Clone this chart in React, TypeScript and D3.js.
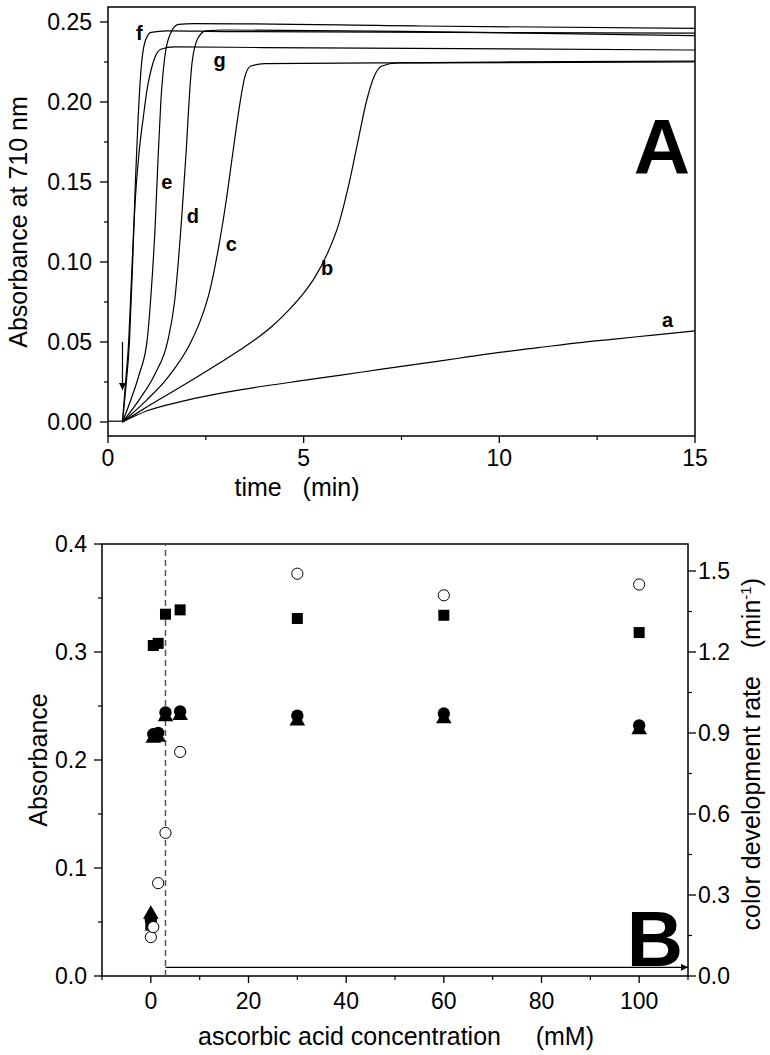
import React from "react";
import * as d3 from "d3";

// ---------- Panel A data (time in min, absorbance at 710 nm) ----------
const baseline: [number, number][] = [[0, 0.0005], [0.37, 0.0005]];
const curveA: [number, number][] = [[0.37,0],[1,0.007],[2,0.0135],[3,0.0185],[4,0.0225],[5,0.026],[6,0.0295],[7,0.033],[8,0.0365],[9,0.04],[10,0.0435],[11,0.0465],[12,0.0495],[13,0.052],[14,0.0545],[15,0.057]];
const curveB: [number, number][] = [[0.37,0],[1,0.0095],[2,0.024],[2.86,0.037],[3.37,0.045],[3.76,0.0515],[4.2,0.06],[4.6,0.0695],[5.0,0.0805],[5.3,0.091],[5.6,0.105],[5.9,0.124],[6.15,0.148],[6.4,0.177],[6.6,0.2],[6.8,0.216],[7.0,0.2225],[7.4,0.2245],[10,0.225],[15,0.2255]];
const curveC: [number, number][] = [[0.37,0],[1,0.014],[1.5,0.027],[2.1,0.049],[2.4,0.066],[2.6,0.082],[2.81,0.107],[3.0,0.135],[3.2,0.17],[3.37,0.199],[3.5,0.216],[3.65,0.2225],[4,0.224],[8,0.2245],[15,0.225]];
const curveD: [number, number][] = [[0.37,0],[0.8,0.014],[1.2,0.03],[1.53,0.051],[1.7,0.075],[1.89,0.13],[2.0,0.17],[2.07,0.2],[2.15,0.225],[2.3,0.24],[2.5,0.2445],[3,0.245],[8,0.244],[15,0.2415]];
const curveE: [number, number][] = [[0.37,0],[0.6,0.015],[0.8,0.03],[1.0,0.051],[1.1,0.08],[1.2,0.12],[1.28,0.165],[1.35,0.2],[1.45,0.228],[1.6,0.243],[1.8,0.2485],[2.2,0.249],[8,0.2475],[15,0.246]];
const curveF: [number, number][] = [[0.37,0],[0.45,0.02],[0.55,0.051],[0.63,0.1],[0.7,0.15],[0.77,0.19],[0.85,0.222],[0.95,0.238],[1.1,0.2435],[1.5,0.2445],[3,0.244],[15,0.243]];
const curveG: [number, number][] = [[0.37,0],[0.45,0.025],[0.53,0.051],[0.6,0.09],[0.7,0.14],[0.8,0.17],[0.9,0.19],[1.0,0.208],[1.1,0.22],[1.2,0.228],[1.35,0.233],[1.7,0.2345],[4,0.234],[15,0.2325]];
const curves = [curveA, curveB, curveC, curveD, curveE, curveF, curveG];

const curveLabels = ["a", "b", "c", "d", "e", "f", "g"];
const labelT = [14.3, 5.6, 3.15, 2.17, 1.5, 0.8, 2.85];
const labelV = [0.064, 0.096, 0.111, 0.129, 0.15, 0.243, 0.226];

const xTicksA = [0, 5, 10, 15];
const yTicksA = [0, 0.05, 0.1, 0.15, 0.2, 0.25];

// ---------- Panel B data ----------
const conc = [0, 0.5, 1.5, 3, 6, 30, 60, 100];
const squares = [0.047, 0.306, 0.308, 0.335, 0.339, 0.331, 0.334, 0.318];
const filledCircles = [0.052, 0.224, 0.225, 0.244, 0.245, 0.241, 0.243, 0.232];
const triangles = [0.058, 0.221, 0.222, 0.241, 0.242, 0.237, 0.239, 0.229];
const openCirclesRate = [0.144, 0.181, 0.344, 0.53, 0.83, 1.49, 1.41, 1.45];

const xTicksB = [0, 20, 40, 60, 80, 100];
const yTicksB = [0, 0.1, 0.2, 0.3, 0.4];
const yTicksR = [0, 0.3, 0.6, 0.9, 1.2, 1.5];
const dashedX = 3;

const FONT = "'Liberation Sans', Arial, Helvetica, sans-serif";

export default function App() {
  // Panel A scales
  const xA = d3.scaleLinear().domain([0, 15]).range([108, 695]);
  const yA = d3.scaleLinear().domain([0, 0.25]).range([422, 22]);
  const topA = 7;
  const botA = 436;
  // Panel B scales
  const xB = d3.scaleLinear().domain([-10, 110]).range([102, 688]);
  const yB = d3.scaleLinear().domain([0, 0.4]).range([976, 544]);
  const yR = d3.scaleLinear().domain([0, 1.6]).range([976, 544]);

  const line = d3
    .line<[number, number]>()
    .x((d) => xA(d[0]))
    .y((d) => yA(d[1]))
    .curve(d3.curveMonotoneX);

  const minorXA = d3.range(0, 15.01, 2.5).filter((v) => !xTicksA.includes(v));
  const minorYA = d3.range(0, 0.2501, 0.025).filter((v) => !yTicksA.some((t) => Math.abs(t - v) < 1e-6));
  const minorXB = d3.range(-10, 110.01, 10).filter((v) => !xTicksB.includes(v));
  const minorYB = [0.05, 0.15, 0.25, 0.35];
  const minorYR = [0.15, 0.45, 0.75, 1.05, 1.35];

  const fsTick = 23;
  const fsTitle = 25;
  const tri = (cx: number, cy: number, s: number) =>
    `M${cx},${cy - s * 0.62} L${cx + s * 0.6},${cy + s * 0.42} L${cx - s * 0.6},${cy + s * 0.42} Z`;

  return (
    <svg
      width={770}
      height={1055}
      style={{ position: "absolute", left: 0, top: 0, background: "#fff" }}
      fontFamily={FONT}
    >
      <rect x={0} y={0} width={770} height={1055} fill="#fff" />
      <defs>
        <marker id="ah" viewBox="0 0 10 10" refX="10" refY="5" markerWidth="11" markerHeight="7" orient="auto" markerUnits="userSpaceOnUse">
          <path d="M0,0 L10,5 L0,10 Z" fill="#000" />
        </marker>
      </defs>

      {/* ================= Panel A ================= */}
      <rect x={xA(0)} y={topA} width={xA(15) - xA(0)} height={botA - topA} fill="none" stroke="#000" strokeWidth={1.5} />
      {xTicksA.map((t) => (
        <g key={"xa" + t}>
          <line x1={xA(t)} x2={xA(t)} y1={botA} y2={botA + 7} stroke="#000" strokeWidth={1.3} />
          <text x={xA(t)} y={botA + 30} fontSize={fsTick} textAnchor="middle">{t}</text>
        </g>
      ))}
      {minorXA.map((t) => (
        <line key={"mxa" + t} x1={xA(t)} x2={xA(t)} y1={botA} y2={botA + 4} stroke="#000" strokeWidth={1.2} />
      ))}
      {yTicksA.map((v) => (
        <g key={"ya" + v}>
          <line x1={xA(0) - 8} x2={xA(0)} y1={yA(v)} y2={yA(v)} stroke="#000" strokeWidth={1.3} />
          <text x={xA(0) - 16} y={yA(v)} dy="0.36em" fontSize={fsTick} textAnchor="end">{v.toFixed(2)}</text>
        </g>
      ))}
      {minorYA.map((v) => (
        <line key={"mya" + v} x1={xA(0) - 4} x2={xA(0)} y1={yA(v)} y2={yA(v)} stroke="#000" strokeWidth={1.2} />
      ))}
      <path d={d3.line<[number, number]>().x((d) => xA(d[0])).y((d) => yA(d[1]))(baseline) || ""} fill="none" stroke="#000" strokeWidth={1.2} />
      {curves.map((c, i) => (
        <path key={"c" + i} d={line(c) || ""} fill="none" stroke="#000" strokeWidth={1.2} />
      ))}
      {curveLabels.map((l, i) => (
        <text key={"l" + l} x={xA(labelT[i])} y={yA(labelV[i])} dy="0.35em" fontSize={20} fontWeight="bold" textAnchor="middle">{l}</text>
      ))}
      {/* injection arrow */}
      <line x1={xA(0.37)} x2={xA(0.37)} y1={yA(0.05)} y2={yA(0.02)} stroke="#000" strokeWidth={1.2} markerEnd="url(#ah)" />
      <text x={662} y={174} fontSize={78} fontWeight="bold" textAnchor="middle">A</text>
      <text x={297} y={botA + 60} fontSize={fsTitle} textAnchor="middle" style={{ whiteSpace: "pre" }}>{"time   (min)"}</text>
      <text transform={`translate(27,${222}) rotate(-90)`} fontSize={fsTitle} textAnchor="middle">Absorbance at 710 nm</text>

      {/* ================= Panel B ================= */}
      <rect x={102} y={544} width={688 - 102} height={976 - 544} fill="none" stroke="#000" strokeWidth={1.5} />
      {xTicksB.map((t) => (
        <g key={"xb" + t}>
          <line x1={xB(t)} x2={xB(t)} y1={976} y2={983} stroke="#000" strokeWidth={1.3} />
          <text x={xB(t)} y={1009} fontSize={fsTick} textAnchor="middle">{t}</text>
        </g>
      ))}
      {minorXB.map((t) => (
        <line key={"mxb" + t} x1={xB(t)} x2={xB(t)} y1={976} y2={980} stroke="#000" strokeWidth={1.2} />
      ))}
      {yTicksB.map((v) => (
        <g key={"yb" + v}>
          <line x1={94} x2={102} y1={yB(v)} y2={yB(v)} stroke="#000" strokeWidth={1.3} />
          <text x={87} y={yB(v)} dy="0.36em" fontSize={fsTick} textAnchor="end">{v.toFixed(1)}</text>
        </g>
      ))}
      {minorYB.map((v) => (
        <line key={"myb" + v} x1={98} x2={102} y1={yB(v)} y2={yB(v)} stroke="#000" strokeWidth={1.2} />
      ))}
      {yTicksR.map((v) => (
        <g key={"yr" + v}>
          <line x1={688} x2={696} y1={yR(v)} y2={yR(v)} stroke="#000" strokeWidth={1.3} />
          <text x={698} y={yR(v)} dy="0.36em" fontSize={fsTick} textAnchor="start">{v.toFixed(1)}</text>
        </g>
      ))}
      {minorYR.map((v) => (
        <line key={"myr" + v} x1={688} x2={692} y1={yR(v)} y2={yR(v)} stroke="#000" strokeWidth={1.2} />
      ))}
      {/* dashed threshold line */}
      <line x1={xB(dashedX)} x2={xB(dashedX)} y1={976} y2={544} stroke="#555" strokeWidth={1.5} strokeDasharray="6,4" />
      {/* arrow */}
      <line x1={xB(dashedX)} x2={xB(110)} y1={yB(0.008)} y2={yB(0.008)} stroke="#000" strokeWidth={1.2} markerEnd="url(#ah)" />

      {conc.map((c, i) => (
        <rect key={"sq" + i} x={xB(c) - 5.5} y={yB(squares[i]) - 5.5} width={11} height={11} fill="#000" />
      ))}
      {conc.map((c, i) => (
        <circle key={"fc" + i} cx={xB(c)} cy={yB(filledCircles[i])} r={6.2} fill="#000" />
      ))}
      {conc.map((c, i) => (
        <path key={"tr" + i} d={tri(xB(c), yB(triangles[i]), 13)} fill="#000" />
      ))}
      {conc.map((c, i) => (
        <circle key={"oc" + i} cx={xB(c)} cy={yR(openCirclesRate[i])} r={5.6} fill="#fff" stroke="#000" strokeWidth={1} />
      ))}

      <text x={655} y={966} fontSize={78} fontWeight="bold" textAnchor="middle">B</text>
      <text x={396} y={1045} fontSize={fsTitle} textAnchor="middle" style={{ whiteSpace: "pre" }}>{"ascorbic acid concentration     (mM)"}</text>
      <text transform={`translate(47,760) rotate(-90)`} fontSize={fsTitle} textAnchor="middle">Absorbance</text>
      <text transform={`translate(760,578) rotate(-90)`} fontSize={fsTitle} textAnchor="end" style={{ whiteSpace: "pre" }}>
        {"color development rate    (min"}
        <tspan dy={-9} fontSize={15}>-1</tspan>
        <tspan dy={9}>)</tspan>
      </text>
    </svg>
  );
}
